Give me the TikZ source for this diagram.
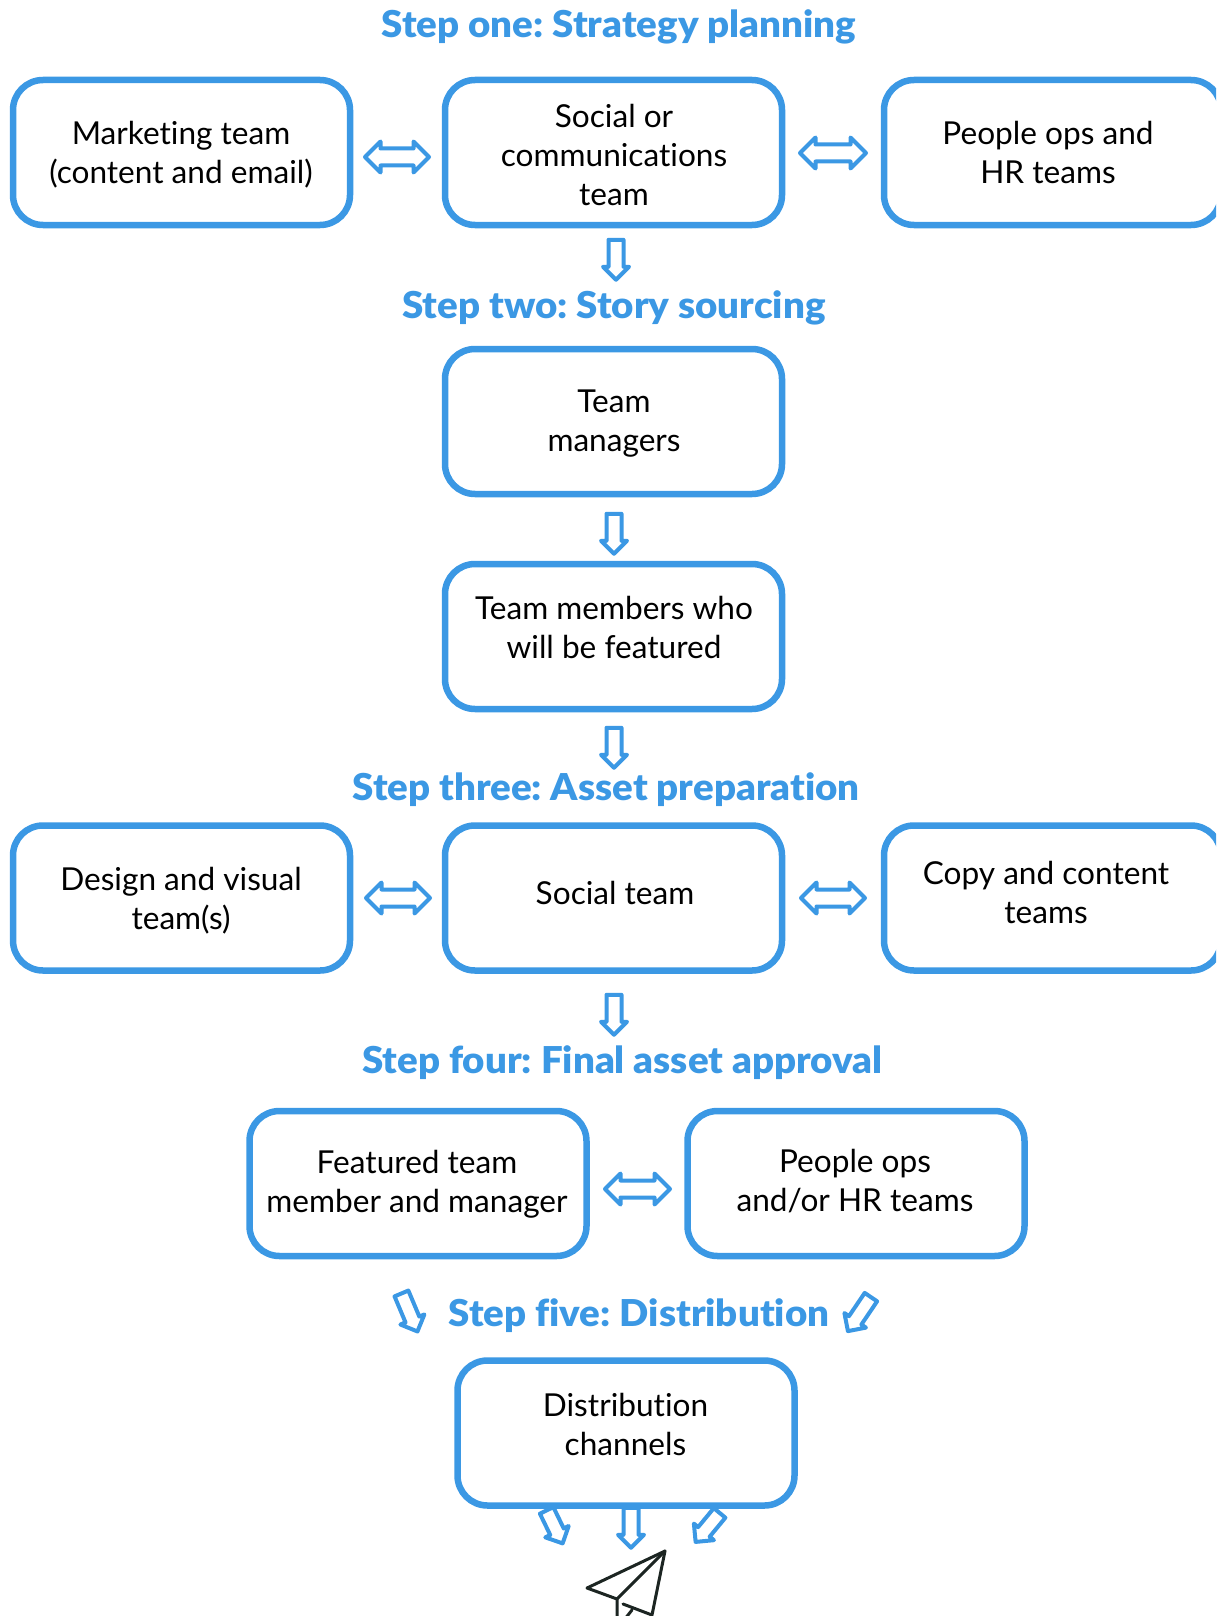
\documentclass[tikz,border=0pt]{standalone}
\usepackage{fontspec}
\setmainfont[Ligatures=NoCommon]{Lato}
\newfontfamily\headfont[Ligatures=NoCommon,FakeStretch=1.04]{Lato Black}
\frenchspacing
\usetikzlibrary{shapes.arrows}
\definecolor{flowblue}{HTML}{3B98E4}
\definecolor{planeink}{HTML}{1C2522}
\tikzset{
  x=1pt,y=-1pt,
  box/.style={draw=flowblue,line width=6.5pt,rounded corners=30pt,minimum width=337pt,minimum height=145pt,inner sep=0pt,outer sep=0pt},
  lbl/.style={align=center,text=black,inner sep=0pt,font=\fontsize{31.6}{39}\selectfont},
  heading/.style={text=flowblue,inner sep=0pt,font=\fontsize{37}{40}\selectfont\headfont},
  arrowbase/.style={draw=flowblue,line width=4pt,line join=round,inner sep=0pt,outer sep=0pt,minimum size=0pt},
  downarrow/.style={arrowbase,shape=single arrow,inner ysep=5.5pt,inner xsep=0pt,single arrow head extend=5.5pt,single arrow tip angle=90,fill=white},
  bothways/.style={arrowbase,shape=double arrow,inner ysep=6.5pt,inner xsep=0pt,double arrow head extend=7pt,double arrow tip angle=90,fill=white},
  planeline/.style={draw=planeink,line width=3pt,line join=round,line cap=round},
}
% name, tail x, tail y, tip x, tip y, style
\newcommand{\blockarrow}[6]{%
  \pgfmathsetmacro{\bax}{(#2+#4)/2}%
  \pgfmathsetmacro{\bay}{(#3+#5)/2}%
  \pgfmathsetmacro{\bal}{veclen(#4-#2,#5-#3)}%
  \pgfmathsetmacro{\baa}{atan2(#3-#5,#4-#2)}%
  \node[#6,minimum height=\bal pt,rotate=\baa] (#1) at (\bax,\bay) {};%
}
\begin{document}
\begin{tikzpicture}
\useasboundingbox (0,0) rectangle (1216,1616);
\clip (0,0) rectangle (1216,1616);
% headings
\node[heading] (h1) at (619,27) {Step one: Strategy planning};
\node[heading] (h2) at (614,308) {Step two: Story sourcing};
\node[heading] (h3) at (606,790) {Step three: Asset preparation};
\node[heading] (h4) at (622.5,1063) {Step four: Final asset approval};
\node[heading] (h5) at (639,1316) {Step five: Distribution};
% boxes
\node[box] (a1) at (181.5,152.5) {};
\node[box] (a2) at (613.5,152.5) {};
\node[box] (a3) at (1052.5,152.5) {};
\node[box] (b1) at (613.5,421.5) {};
\node[box] (b2) at (613.5,636.5) {};
\node[box] (c1) at (181.5,898) {};
\node[box] (c2) at (613.5,898) {};
\node[box] (c3) at (1052.5,898) {};
\node[box] (d1) at (418,1183.5) {};
\node[box] (d2) at (856,1183.5) {};
\node[box] (e1) at (626,1433) {};
% labels
\node[lbl] (ta1) at (181,155) {Marketing team\\(content and email)};
\node[lbl] (ta2) at (614,155) {Social or\\communications\\team};
\node[lbl] (ta3) at (1048,152.5) {People ops and\\HR teams};
\node[lbl] (tb1) at (614,424) {Team\\managers};
\node[lbl] (tb2) at (614,627.5) {Team members who\\will be featured};
\node[lbl] (tc1) at (181,901) {Design and visual\\team(s)};
\node[lbl] (tc2) at (615,893) {Social team};
\node[lbl] (tc3) at (1046,892) {Copy and content\\teams};
\node[lbl] (td1) at (417,1184) {Featured team\\member and manager};
\node[lbl] (td2) at (855,1181) {People ops\\and/or HR teams};
\node[lbl] (te1) at (625.5,1424) {Distribution\\channels};
% horizontal two-way arrows
\blockarrow{w1}{365}{157}{429}{157}{bothways}
\blockarrow{w2}{800}{153}{866}{153}{bothways}
\blockarrow{w3}{366}{898}{430}{898}{bothways}
\blockarrow{w4}{801}{898}{865}{898}{bothways}
\blockarrow{w5}{605}{1189}{670}{1189}{bothways}
% downward arrows
\blockarrow{s1}{616}{236}{616}{276}{downarrow}
\blockarrow{s2}{614}{510}{614}{550}{downarrow}
\blockarrow{s3}{614}{724}{614}{764}{downarrow}
\blockarrow{s4}{614}{991}{614}{1031}{downarrow}
\blockarrow{s5}{400}{1290}{416}{1328}{downarrow}
\blockarrow{s6}{873}{1294}{850}{1328}{downarrow}
\blockarrow{s7}{545}{1507}{561}{1540}{downarrow}
\blockarrow{s8}{631}{1504}{631}{1544}{downarrow}
\blockarrow{s9}{722}{1510}{698}{1539}{downarrow}
% paper plane
\draw[planeline] (617,1599) -- (587,1588) -- (665,1551) -- (652,1615);
\draw[planeline] (665,1551) -- (617,1599) -- (617,1625);
\draw[planeline] (623,1604) -- (652,1615);
\draw[planeline] (632,1610) -- (620,1625);
\end{tikzpicture}
\end{document}
